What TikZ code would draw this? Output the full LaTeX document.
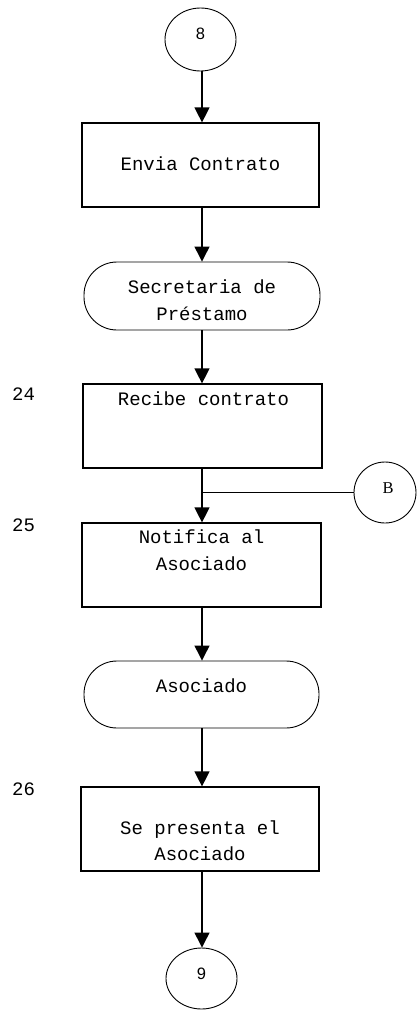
\documentclass[tikz,border=0pt]{standalone}
\usepackage{fontspec}
\usetikzlibrary{arrows.meta,shapes.geometric}
\newfontfamily\monofnt{Liberation Mono}
\newfontfamily\sansfnt{Liberation Sans}
\newfontfamily\seriffnt{Liberation Serif}
\begin{document}
\begin{tikzpicture}[x=1pt,y=-1pt,
  procbox/.style={draw=black,line width=1.2pt,rectangle,inner sep=0pt},
  termbox/.style={draw=black,line width=0.9pt,rectangle,rounded corners=33pt,inner sep=0pt},
  connector/.style={draw=black,line width=0.9pt,ellipse,inner sep=0pt},
  txt/.style={font=\monofnt\fontsize{19}{27}\selectfont,anchor=base,inner sep=0pt},
  numtxt/.style={font=\sansfnt\fontsize{16.5}{18}\selectfont,anchor=base,inner sep=0pt},
  lettxt/.style={font=\seriffnt\fontsize{16.5}{18}\selectfont,anchor=base,inner sep=0pt},
  flow/.style={draw=black,line width=1.2pt,-{Triangle[length=15pt,width=15pt]}},
  link/.style={draw=black,line width=1.2pt}]
\useasboundingbox (0,0) rectangle (418,1010);

% shapes
\node[connector,minimum width=71pt,minimum height=63pt] (c8) at (200.5,39.5) {};
\node[procbox,minimum width=237pt,minimum height=84pt] (box1) at (200.5,165) {};
\node[termbox,minimum width=236pt,minimum height=68pt] (term1) at (202,296) {};
\node[procbox,minimum width=239pt,minimum height=84pt] (box24) at (202.5,426) {};
\node[connector,minimum width=62pt,minimum height=61pt] (cB) at (385,492.5) {};
\node[procbox,minimum width=239pt,minimum height=84pt] (box25) at (201.5,565) {};
\node[termbox,minimum width=235pt,minimum height=67pt] (term2) at (201.5,694.5) {};
\node[procbox,minimum width=238pt,minimum height=84pt] (box26) at (200,829) {};
\node[connector,minimum width=71pt,minimum height=61pt] (c9) at (201.5,978.5) {};

% texts
\node[numtxt] (t8) at (200.5,39) {8};
\node[txt] (t1) at (200.5,170) {Envia Contrato};
\node[txt] (t2a) at (202,293) {Secretaria de};
\node[txt] (t2b) at (202,320) {Préstamo};
\node[txt] (t3) at (203.5,405) {Recibe contrato};
\node[lettxt] (tB) at (388,493) {B};
\node[txt] (t4a) at (201.5,543) {Notifica al};
\node[txt] (t4b) at (201.5,570) {Asociado};
\node[txt] (t5) at (201.5,692) {Asociado};
\node[txt] (t6a) at (200,834) {Se presenta el};
\node[txt] (t6b) at (200,860) {Asociado};
\node[numtxt] (t9) at (201.5,979.5) {9};

% step numbers
\node[txt,anchor=base west] (n24) at (12,400) {24};
\node[txt,anchor=base west] (n25) at (12,531) {25};
\node[txt,anchor=base west] (n26) at (12,795) {26};

% connectors
\coordinate (x0) at (202,0);
\draw[flow] (c8.south -| x0) -- (box1.north -| x0);
\draw[flow] (box1.south -| x0) -- (term1.north -| x0);
\draw[flow] (term1.south -| x0) -- (box24.north -| x0);
\draw[flow] (box24.south -| x0) -- (box25.north -| x0);
\coordinate (jB) at (x0 |- cB.west);
\draw[link] (cB.west) -- (jB);
\draw[flow] (box25.south -| x0) -- (term2.north -| x0);
\draw[flow] (term2.south -| x0) -- (box26.north -| x0);
\draw[flow] (box26.south -| x0) -- (c9.north -| x0);
\end{tikzpicture}
\end{document}
